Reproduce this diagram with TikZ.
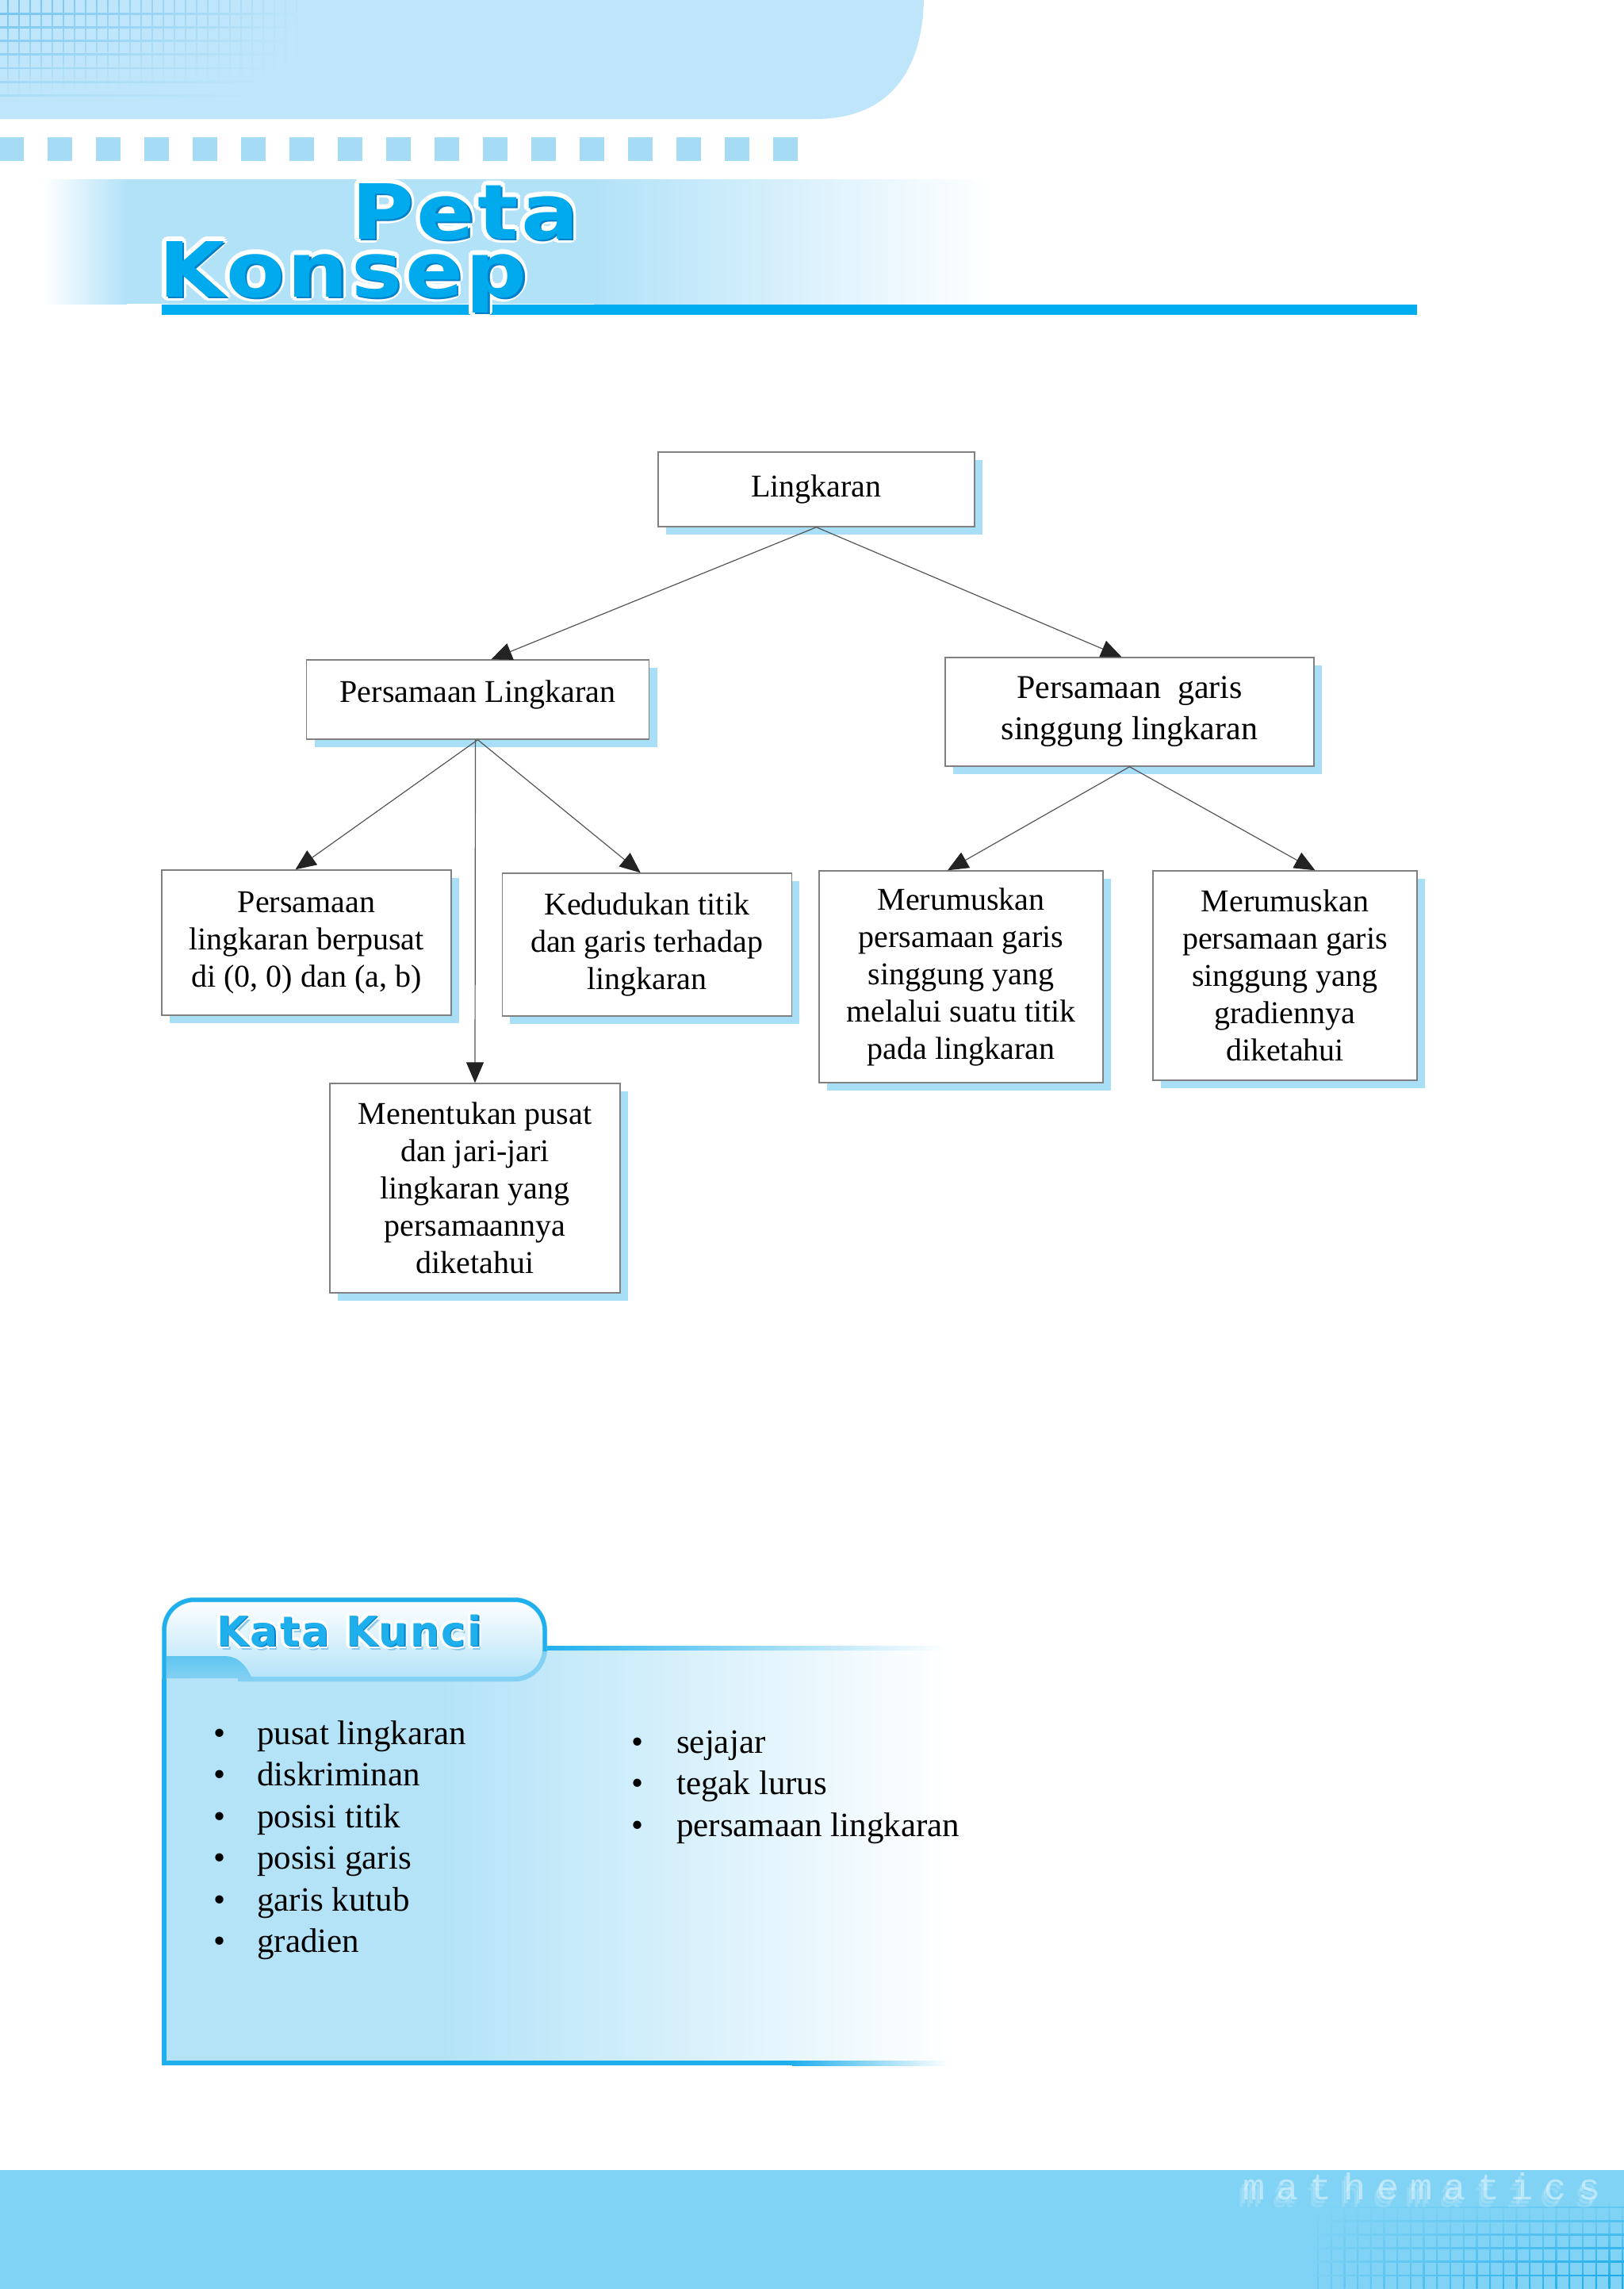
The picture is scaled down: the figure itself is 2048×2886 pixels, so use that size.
\documentclass[tikz,border=0pt]{standalone}
\usepackage{graphicx}
\usepackage{fontspec}
\setmainfont{Liberation Serif}
\newfontfamily\petafont[LetterSpace=3.5]{DejaVu Sans}
\newfontfamily\kkfont[LetterSpace=4.5]{DejaVu Sans}
\newfontfamily\mathsfont[LetterSpace=30]{Liberation Mono}
\usetikzlibrary{arrows.meta,shadows}
\definecolor{bannerc}{RGB}{190,229,249}
\definecolor{gridc}{RGB}{110,193,238}
\definecolor{sqc}{RGB}{166,219,245}
\definecolor{bandc}{RGB}{178,226,248}
\definecolor{linec}{RGB}{0,174,239}
\definecolor{titlec}{RGB}{0,170,236}
\definecolor{titledark}{RGB}{0,128,200}
\definecolor{boxgray}{RGB}{128,128,128}
\definecolor{shadowblue}{RGB}{168,222,246}
\definecolor{arrowc}{RGB}{85,85,85}
\definecolor{arrowhead}{RGB}{35,35,35}
\definecolor{kkfill}{RGB}{180,227,248}
\definecolor{kkcyan}{RGB}{30,175,236}
\definecolor{kksoft}{RGB}{130,208,243}
\definecolor{swooshc}{RGB}{95,198,240}
\definecolor{bottomc}{RGB}{128,211,245}
\definecolor{gridtwo}{RGB}{20,168,232}
\definecolor{kkshadow}{RGB}{140,200,235}
\newcommand\wideit[1]{\scalebox{1.12}[1]{#1}}
\begin{document}
\begin{tikzpicture}[x=1pt,y=-1pt,
  box/.style={draw=boxgray, line width=1.4pt, fill=white,
    general shadow={fill=shadowblue, shadow xshift=10pt, shadow yshift=-10pt},
    align=center, inner sep=0pt, font=\fontsize{40}{47}\selectfont},
  conn/.style={draw=arrowc, line width=1.2pt,
    -{Triangle[length=26pt,width=22pt,color=arrowhead]}},
  petatxt/.style={inner sep=0pt, anchor=base west, font=\petafont\bfseries\fontsize{96}{96}\selectfont},
  kktxt/.style={inner sep=0pt, anchor=base west, font=\kkfont\bfseries\fontsize{52}{52}\selectfont},
  listtxt/.style={inner sep=0pt, anchor=base west, font=\fontsize{43}{52}\selectfont},
  bul/.style={inner sep=0pt, anchor=base, font=\fontsize{43}{52}\selectfont},
  mathtxt/.style={inner sep=0pt, anchor=base west, text=white, font=\mathsfont\fontsize{47}{47}\selectfont}
]
\useasboundingbox (0,0) rectangle (2048,2886);
\fill[white] (0,0) rectangle (2048,2886);

% ---------- header banner ----------
\fill[bannerc] (0,0) -- (1165,0) .. controls (1163,85) and (1125,150) .. (1028,150) -- (0,150) -- cycle;
\foreach \i in {0,...,26}{
  \pgfmathtruncatemacro\p{95-\i*3.4}
  \pgfmathsetmacro\len{122-\i*0.9}
  \shade[top color=gridc!\p!bannerc, bottom color=bannerc] ({10+14*\i-0.8},0) rectangle ({10+14*\i+0.8},\len);
}
\foreach \j in {1,...,7}{
  \pgfmathtruncatemacro\p{100-\j*11}
  \pgfmathsetmacro\len{385-\j*8}
  \shade[left color=gridc!\p!bannerc, right color=bannerc] (0,{17.2*\j-0.9}) rectangle (\len,{17.2*\j+0.9});
}
\foreach \k in {0,...,16}{
  \fill[sqc] ({61*\k-1.3},173) rectangle ({61*\k+29.7},203);
}
\shade[left color=white, right color=bandc] (55,226) rectangle (160,383);
\fill[bandc] (159,226) rectangle (750,383);
\shade[left color=bandc, right color=white] (749,226) rectangle (1250,383);
\fill[linec] (204,384) rectangle (1787,397);

% title "Peta Konsep"
\foreach \a in {0,30,...,330}{
  \node[petatxt, text=white] (petaw\a) at ([shift={(\a:5.5pt)}]443,301) {\wideit{Peta}};
  \node[petatxt, text=white] (konsepw\a) at ([shift={(\a:5.5pt)}]200,374) {\wideit{Konsep}};
}
\node[petatxt, text=titledark] (petad) at (445.5,303.5) {\wideit{Peta}};
\node[petatxt, text=titledark] (konsepd) at (202.5,376.5) {\wideit{Konsep}};
\node[petatxt, text=titlec] (peta) at (443,301) {\wideit{Peta}};
\node[petatxt, text=titlec] (konsep) at (200,374) {\wideit{Konsep}};

% ---------- concept map ----------
\node[box, minimum width=399pt, minimum height=94pt] (L) at (1029.5,617) {Lingkaran};
\node[box, minimum width=432pt, minimum height=100pt, text depth=21pt] (PL) at (602.5,882) {Persamaan Lingkaran};
\node[box, minimum width=465pt, minimum height=137pt, font=\fontsize{42}{52}\selectfont] (PG) at (1424.5,897.5) {Persamaan\ \ garis\\singgung lingkaran};
\node[box, minimum width=365pt, minimum height=183pt] (A) at (386.5,1188.5) {Persamaan\\lingkaran berpusat\\di (0, 0) dan (a, b)};
\node[box, minimum width=365pt, minimum height=180pt] (B) at (815.75,1191) {Kedudukan titik\\dan garis terhadap\\lingkaran};
\node[box, minimum width=366pt, minimum height=264pt] (C) at (599,1498) {Menentukan pusat\\dan jari-jari\\lingkaran yang\\persamaannya\\diketahui};
\node[box, minimum width=358pt, minimum height=267pt] (D) at (1212,1231.5) {Merumuskan\\persamaan garis\\singgung yang\\melalui suatu titik\\pada lingkaran};
\node[box, minimum width=333pt, minimum height=264pt] (E) at (1620.5,1230) {Merumuskan\\persamaan garis\\singgung yang\\gradiennya\\diketahui};

\draw[conn] (L.south) -- ([xshift=17pt]PL.north);
\draw[conn] (L.south) -- ([xshift=-10pt]PG.north);
\draw[conn] (PL.south) -- ([xshift=-14pt]A.north);
\draw[conn] ([xshift=-3pt]PL.south) -- (C.north);
\draw[conn] (PL.south) -- ([xshift=-8pt]B.north);
\draw[conn] (PG.south) -- ([xshift=-17pt]D.north);
\draw[conn] (PG.south) -- ([xshift=38pt]E.north);

% ---------- Kata Kunci ----------
\fill[kkfill] (207,2077) rectangle (561,2601);
\shade[left color=kkfill, right color=white] (560,2077) rectangle (1200,2601);
\shade[left color=kkcyan, right color=white] (686,2075) rectangle (1195,2080);
\fill[kkcyan] (204,2060) rectangle (210,2604);
\fill[kkcyan] (204,2598) rectangle (1000,2604);
\shade[left color=kkcyan, right color=white] (999,2598) rectangle (1195,2604);
% tab
\shade[top color=white, middle color=white, bottom color=kkfill, rounded corners=38pt]
  (207,2117) -- (207,2017) -- (687,2017) -- (687,2117) -- (207,2117) [sharp corners] -- cycle;
\draw[kksoft, line width=6pt, rounded corners=38pt]
  (207,2117) -- (207,2017) -- (687,2017) -- (687,2117) -- (300,2117);
\draw[kkcyan, line width=5pt, rounded corners=38pt]
  (207,2117) -- (207,2017) -- (687,2017) -- (687,2082);
\shade[top color=swooshc, bottom color=kksoft]
  (210,2088) -- (282,2088) .. controls (302,2088) and (310,2100) .. (318,2116) -- (210,2116) -- cycle;
\node[kktxt, text=kkshadow] (kkshadow) at (276,2080) {Kata Kunci};
\foreach \a in {0,30,...,330}{
  \node[kktxt, text=white] (kkw\a) at ([shift={(\a:3.5pt)}]273,2075) {Kata Kunci};
}
\node[kktxt, text=titledark] (kkd) at (274.5,2076.5) {Kata Kunci};
\node[kktxt, text=kkcyan] (kk) at (273,2075) {Kata Kunci};

% list
\node[bul] (b1) at (277,2199) {•};
\node[bul] (b2) at (277,2251) {•};
\node[bul] (b3) at (277,2304) {•};
\node[bul] (b4) at (277,2356) {•};
\node[bul] (b5) at (277,2409) {•};
\node[bul] (b6) at (277,2461) {•};
\node[listtxt] (t1) at (324,2199) {pusat lingkaran};
\node[listtxt] (t2) at (324,2251) {diskriminan};
\node[listtxt] (t3) at (324,2304) {posisi titik};
\node[listtxt] (t4) at (324,2356) {posisi garis};
\node[listtxt] (t5) at (324,2409) {garis kutub};
\node[listtxt] (t6) at (324,2461) {gradien};
\node[bul] (b7) at (804,2210) {•};
\node[bul] (b8) at (804,2262) {•};
\node[bul] (b9) at (804,2315) {•};
\node[listtxt] (t7) at (853,2210) {sejajar};
\node[listtxt] (t8) at (853,2262) {tegak lurus};
\node[listtxt] (t9) at (853,2315) {persamaan lingkaran};

% ---------- bottom band ----------
\fill[bottomc] (0,2736) rectangle (2048,2886);
\foreach \i in {0,...,23}{
  \pgfmathtruncatemacro\p{20+\i*3.4}
  \shade[top color=bottomc, bottom color=gridtwo!\p!bottomc] ({1662+16.7*\i-0.9},2774) rectangle ({1662+16.7*\i+0.9},2886);
}
\foreach \j in {0,...,5}{
  \pgfmathtruncatemacro\p{30+\j*13}
  \shade[left color=bottomc, right color=gridtwo!\p!bottomc] (1640,{2783+17.2*\j-0.9}) rectangle (2048,{2783+17.2*\j+0.9});
}
\node[mathtxt, opacity=0.15] (mathsh2) at (1561,2783) {mathematics};
\node[mathtxt, opacity=0.2] (mathsh) at (1564,2778) {mathematics};
\node[mathtxt, opacity=0.45] (maths) at (1567,2773) {mathematics};
\end{tikzpicture}
\end{document}
